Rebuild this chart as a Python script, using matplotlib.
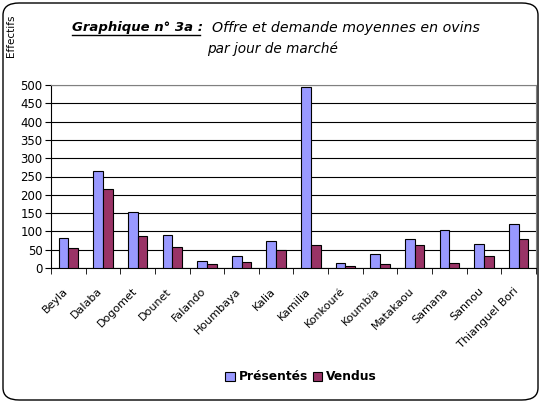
import matplotlib
matplotlib.use("Agg")
import matplotlib.pyplot as plt
import matplotlib.transforms as mtransforms
import numpy as np
from matplotlib.patches import FancyBboxPatch
from matplotlib.lines import Line2D

marches = ["Beyla", "Dalaba", "Dogomet", "Dounet", "Falando", "Houmbaya", "Kalia",
           "Kamilia", "Konkouré", "Koumbia", "Matakaou", "Samana", "Sannou", "Thianguel Bori"]
presentes = [82, 264, 153, 91, 20, 32, 75, 494, 14, 38, 79, 104, 65, 120]
vendus = [54, 215, 88, 57, 11, 16, 50, 63, 6, 11, 62, 14, 32, 79]

plt.rcParams["font.family"] = ["DejaVu Sans"]

fig = plt.figure(figsize=(5.41, 4.03), dpi=100)
W, H = 541, 403

# rounded chart frame
frame = FancyBboxPatch((3 / W, 3 / H), 535 / W, 397 / H,
                       boxstyle="round,pad=0,rounding_size=0.03",
                       transform=fig.transFigure, facecolor="none",
                       edgecolor="black", linewidth=1.0, zorder=5)
fig.patches.append(frame)

ax = fig.add_axes([51 / W, 1 - 268 / H, 485 / W, 183 / H])
x = np.arange(len(marches))
bw = 0.28
ax.bar(x - bw / 2, presentes, bw, color="#9999FF", edgecolor="black", linewidth=0.8, zorder=3)
ax.bar(x + bw / 2, vendus, bw, color="#993366", edgecolor="black", linewidth=0.8, zorder=3)

ax.set_xlim(-0.5, len(marches) - 0.5)
ax.set_ylim(0, 500)
ax.set_yticks(range(0, 501, 50))
ax.yaxis.grid(True, color="black", linewidth=0.8, zorder=0)
ax.tick_params(axis="y", labelsize=8.5, length=4, pad=2)

ax.set_xticks(x)
ax.set_xticklabels(marches, rotation=45, ha="right", rotation_mode="anchor", fontsize=8)
ax.set_xticks(np.arange(-0.5, len(marches), 1), minor=True)
ax.tick_params(axis="x", which="major", length=0, pad=13)
ax.tick_params(axis="x", which="minor", length=4, direction="out")
shift = mtransforms.ScaledTranslation(-0.06, 0, fig.dpi_scale_trans)
for lab in ax.get_xticklabels():
    lab.set_transform(lab.get_transform() + shift)

for side in ["top", "right"]:
    ax.spines[side].set_color("#808080")
ax.spines["left"].set_color("black")
ax.spines["bottom"].set_color("black")

# title
t1 = fig.text(72 / W, 1 - 28 / H, "Graphique n° 3a :", fontsize=9.5, fontweight="bold",
              fontstyle="italic", ha="left", va="center")
fig.text(212 / W, 1 - 28 / H, "Offre et demande moyennes en ovins", fontsize=10.2,
         fontstyle="italic", ha="left", va="center")
fig.text(272 / W, 1 - 49 / H, "par jour de marché", fontsize=9.8,
         fontstyle="italic", ha="center", va="center")
fig.text(11 / W, 1 - 36 / H, "Effectifs", fontsize=7.5, rotation=90, ha="center", va="center")

fig.canvas.draw()
bb = t1.get_window_extent().transformed(fig.transFigure.inverted())
fig.add_artist(Line2D([bb.x0, bb.x1 - 3 / W], [bb.y0 - 0.5 / H, bb.y0 - 0.5 / H],
                      transform=fig.transFigure, color="black", linewidth=1.0))

# legend
handles = [plt.Rectangle((0, 0), 1, 1, facecolor="#9999FF", edgecolor="black", linewidth=0.8),
           plt.Rectangle((0, 0), 1, 1, facecolor="#993366", edgecolor="black", linewidth=0.8)]
fig.legend(handles, ["Présentés", "Vendus"], loc="center", bbox_to_anchor=(301 / W, 1 - 377 / H),
           ncol=2, frameon=False, prop={"weight": "bold", "size": 8.8},
           handlelength=0.8, handleheight=0.8, handletextpad=0.3, columnspacing=0.4)

fig.savefig("out.png", dpi=100)
